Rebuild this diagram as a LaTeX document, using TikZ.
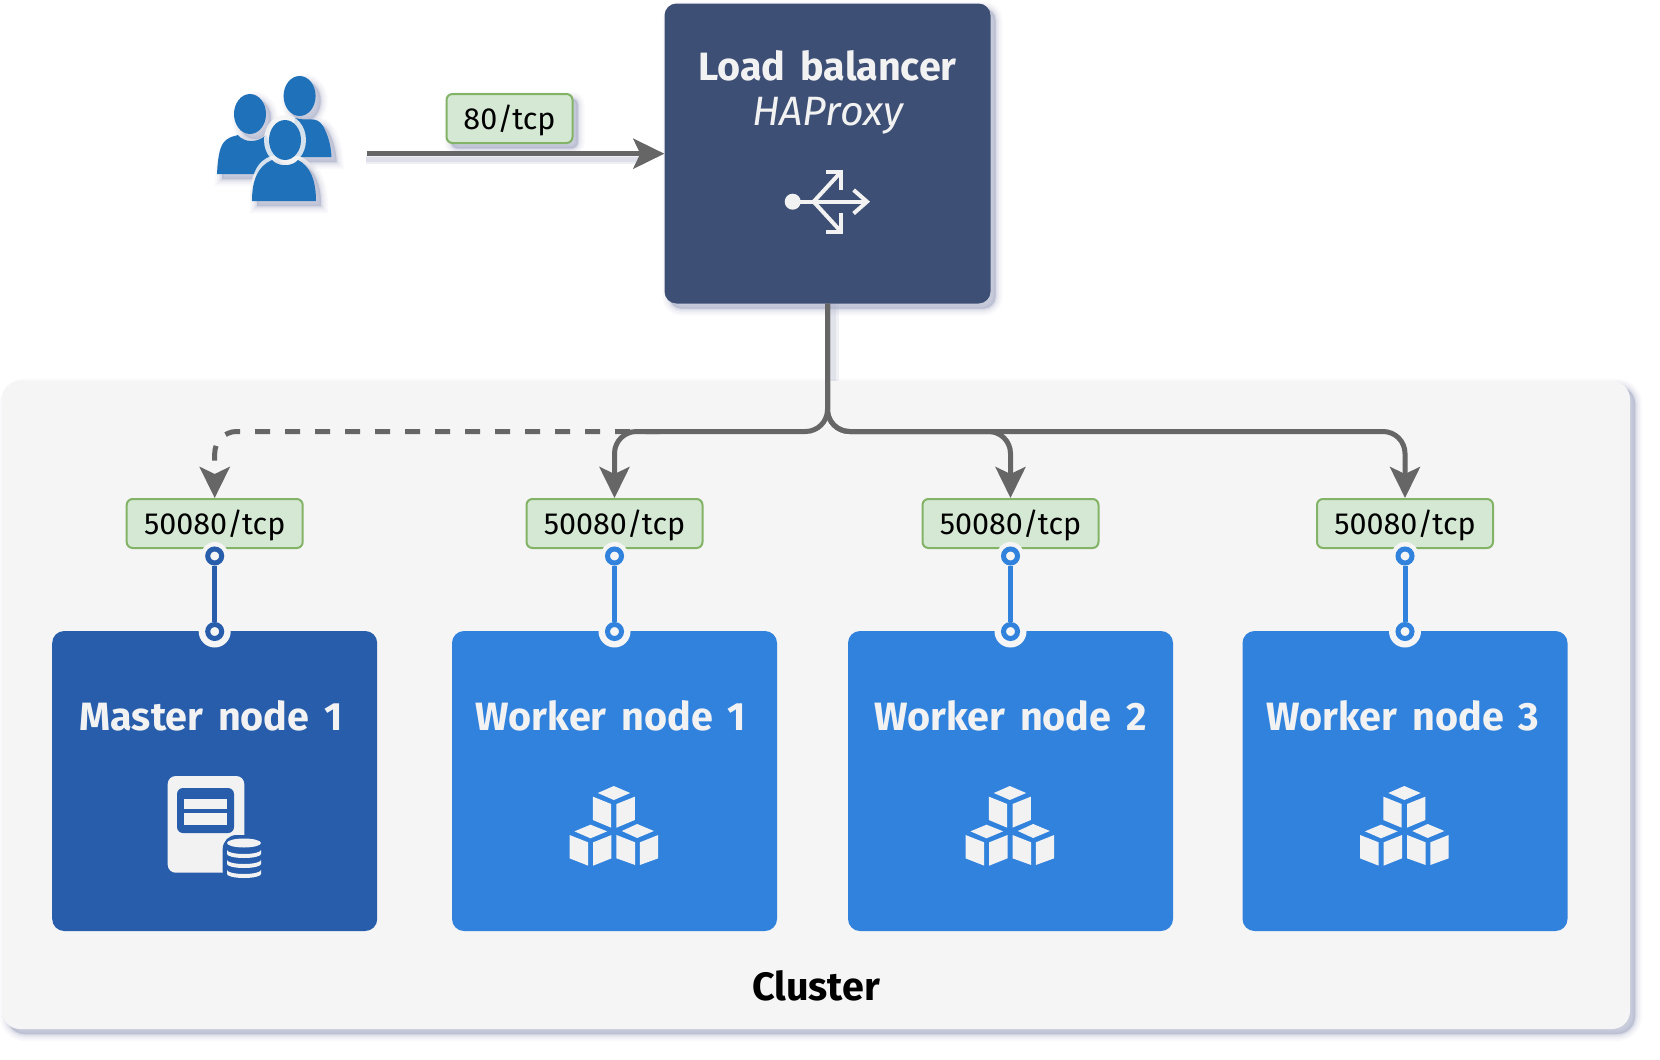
\documentclass[tikz,border=0pt]{standalone}
\usepackage{fontspec}
\setmainfont{Fira Sans}
\newfontfamily\titlefont[WordSpace=1.6]{Fira Sans}
\usetikzlibrary{arrows.meta,calc}
\definecolor{shad}{HTML}{AEB3CB}
\definecolor{clusterc}{HTML}{F5F5F5}
\definecolor{lbc}{HTML}{3E4F75}
\definecolor{masterc}{HTML}{275DAB}
\definecolor{workerc}{HTML}{3182DD}
\definecolor{iconc}{HTML}{F2F2F2}
\definecolor{portf}{HTML}{D5E8D4}
\definecolor{portd}{HTML}{82B366}
\definecolor{routec}{HTML}{666666}
\definecolor{userc}{HTML}{1F71BA}
\tikzset{
  softshadow/.style={
    preaction={draw=shad,fill=shad,opacity=.07,line width=14pt,transform canvas={xshift=5pt,yshift=-5pt}},
    preaction={draw=shad,fill=shad,opacity=.10,line width=10pt,transform canvas={xshift=5pt,yshift=-5pt}},
    preaction={draw=shad,fill=shad,opacity=.14,line width=6pt,transform canvas={xshift=5pt,yshift=-5pt}},
    preaction={draw=shad,fill=shad,opacity=.22,line width=3pt,transform canvas={xshift=5pt,yshift=-5pt}},
    preaction={draw=shad,fill=shad,opacity=.3,transform canvas={xshift=5pt,yshift=-5pt}}},
  box/.style={rectangle,rounded corners=12pt,inner sep=0pt,minimum width=325pt,minimum height=300pt},
  clusterbox/.style={rectangle,rounded corners=18pt,fill=clusterc,inner sep=0pt,minimum width=1628pt,minimum height=648pt},
  port/.style={rectangle,rounded corners=6pt,draw=portd,fill=portf,line width=2pt,inner sep=0pt,minimum height=49pt,
    text height=21pt,text depth=0pt,font=\fontsize{30.5}{31}\selectfont,text=black},
  title/.style={anchor=base,inner sep=0pt,text=iconc,font=\titlefont\fontsize{39.5}{40}\selectfont\bfseries},
  route/.style={draw=routec,line width=5pt,rounded corners=22pt,-{Stealth[length=31pt,width=30pt,inset=7pt]}},
  portpin/.style={circle,inner sep=0pt,minimum size=14pt,fill=clusterc,line width=5pt},
  iconfill/.style={fill=iconc,draw=none},
  iconline/.style={draw=iconc,line width=4pt},
  person/.style={fill=userc,draw=none},
  haloc/.style={fill=clusterc,draw=none}
}
\newcommand{\cubeicon}[1]{%
  \begin{scope}[shift={(#1-75,760)},x=.3333pt,y=-.3333pt,iconfill]
    \fill (223,78)--(272,99)--(223,120)--(175,99)--cycle;
    \fill (160,110)--(215,132)--(215,203)--(160,180)--cycle;
    \fill (231,132)--(286,110)--(286,180)--(231,203)--cycle;
    \fill (153,194)--(203,214)--(153,235)--(105,214)--cycle;
    \fill (90,225)--(146,247)--(146,317)--(90,295)--cycle;
    \fill (161,247)--(216,225)--(216,295)--(161,317)--cycle;
    \fill (293,192)--(343,213)--(293,234)--(247,213)--cycle;
    \fill (231,225)--(287,247)--(287,315)--(231,295)--cycle;
    \fill (301,247)--(356,225)--(356,295)--(301,315)--cycle;
  \end{scope}}
% id, x, colour, title, title offset
\newcommand{\column}[5]{%
  \node[box,fill=#3] (#1box) at (#2,781) {};
  \node[port,minimum width=176pt] (#1port) at (#2,523.5) {50080/tcp};
  \fill[clusterc] (#2,556) circle (14pt);
  \fill[clusterc] (#2,631.5) circle (16pt);
  \node[portpin,draw=#3] (#1top) at (#2,556) {};
  \node[portpin,draw=#3] (#1bot) at (#2,631.5) {};
  \draw[#3,line width=5pt] (#1top) -- (#1bot);
  \node[title] (#1title) at (#2+#5,730) {#4};
}
\begin{document}
\begin{tikzpicture}[x=1pt,y=-1pt]
\useasboundingbox (0,0) rectangle (1660,1060);
\fill[white] (0,0) rectangle (1660,1060);

% shadows of the upper links
\fill[shad,opacity=.18] (829,303) rectangle (839,390);
\fill[shad,opacity=.22] (831,303) rectangle (836,390);
\fill[shad,opacity=.2] (366,155) rectangle (640,164);
\fill[shad,opacity=.25] (366,157) rectangle (640,162);

% cluster
\node[clusterbox,softshadow] (cluster) at (816,705) {};
\node[anchor=base,inner sep=0pt,text=black,font=\fontsize{39.5}{40}\selectfont\bfseries] (clusterlabel) at (816,1000) {Cluster};

% load balancer
\node[box,fill=lbc,softshadow,minimum width=326pt,minimum height=300pt] (lb) at (827.5,153.5) {};
\node[title] (lbtitle) at (827.5,80) {Load balancer};
\node[title,font=\fontsize{41}{41}\selectfont\itshape\mdseries] (lbsub) at (827.5,125) {HAProxy};

% balancer icon
\fill[iconc] (792.7,201.7) circle (8pt);
\draw[iconline] (792.7,201.7) -- (867,201.7);
\draw[iconline] (853.6,190) -- (867,201.7) -- (853.6,213.5);
\draw[iconline] (813.6,201.7) -- (840,173);
\draw[iconline] (826,172) -- (841,172) -- (841,190);
\draw[iconline] (813.6,201.7) -- (840,230.5);
\draw[iconline] (826,231.5) -- (841,231.5) -- (841,213);

% users
\coordinate (userlink) at (366.5,153.7);
\begin{scope}
  \fill[person,softshadow] (299.6,96) ellipse (16pt and 20pt);
  \fill[person,softshadow] (295,118) .. controls (308,122) and (316,115) .. (323,126) .. controls (328,135) and (331,145) .. (331.5,157) -- (290,157) -- cycle;
  \fill[person,softshadow] (250,114) ellipse (16pt and 20pt);
  \fill[person,softshadow] (217,174) .. controls (218,155) and (220,145) .. (226,140) .. controls (231,136) and (236,136) .. (238,135) .. controls (244,143) and (258,143) .. (266,135) -- (285,174) -- cycle;
  \fill[haloc,opacity=.85] (285,140) ellipse (21pt and 25pt);
  \fill[haloc,opacity=.85] (250,201) .. controls (250,178) and (256,160) .. (272,156) -- (298,156) .. controls (314,160) and (318,178) .. (318,201) -- cycle;
  \fill[person] (285,140) ellipse (16pt and 20pt);
  \fill[person,softshadow] (252,201) .. controls (252,180) and (258,166) .. (272,160) .. controls (278,167) and (292,167) .. (298,160) .. controls (310,166) and (316,180) .. (316,201) -- cycle;
\end{scope}

% 80/tcp
\node[port,minimum width=126pt,softshadow] (webport) at (509.5,118.5) {80/tcp};
\draw[route,rounded corners=0pt] (userlink) -- (lb.west |- userlink);

% columns
\column{m}{214.7}{masterc}{Master node 1}{-3.5}
\column{a}{614.5}{workerc}{Worker node 1}{-3.5}
\column{b}{1010.5}{workerc}{Worker node 2}{0}
\column{c}{1405}{workerc}{Worker node 3}{-2}

% routes
\coordinate (bus) at (827.5,431.5);
\draw[route,dash pattern=on 15pt off 15pt] (660,431.5) -| (mport.north);
\draw[route] (lb.south) -- (bus) -| (aport.north);
\draw[route] (lb.south) -- (bus) -| (bport.north);
\draw[route] (lb.south) -- (bus) -| (cport.north);

% master icon
\fill[iconc,rounded corners=8pt] (167.7,776) rectangle (244.3,872.7);
\fill[masterc,rounded corners=6pt] (177,788) rectangle (234,833);
\fill[iconc] (184,799) rectangle (227,809.3);
\fill[iconc] (184,812.7) rectangle (227,825);
\fill[masterc,rounded corners=14pt] (222.7,835) rectangle (270,885);
\foreach \yy in {853,863,873}{
  \fill[iconc] (227,\yy-3) arc[start angle=180,end angle=360,x radius=17pt,y radius=4pt] -- (261,\yy+1) arc[start angle=0,end angle=180,x radius=17pt,y radius=-4pt] -- cycle;
}
\fill[iconc] (244,843) ellipse (17pt and 4.5pt);

% cube icons
\cubeicon{614.5}
\cubeicon{1010.5}
\cubeicon{1405}
\end{tikzpicture}
\end{document}
